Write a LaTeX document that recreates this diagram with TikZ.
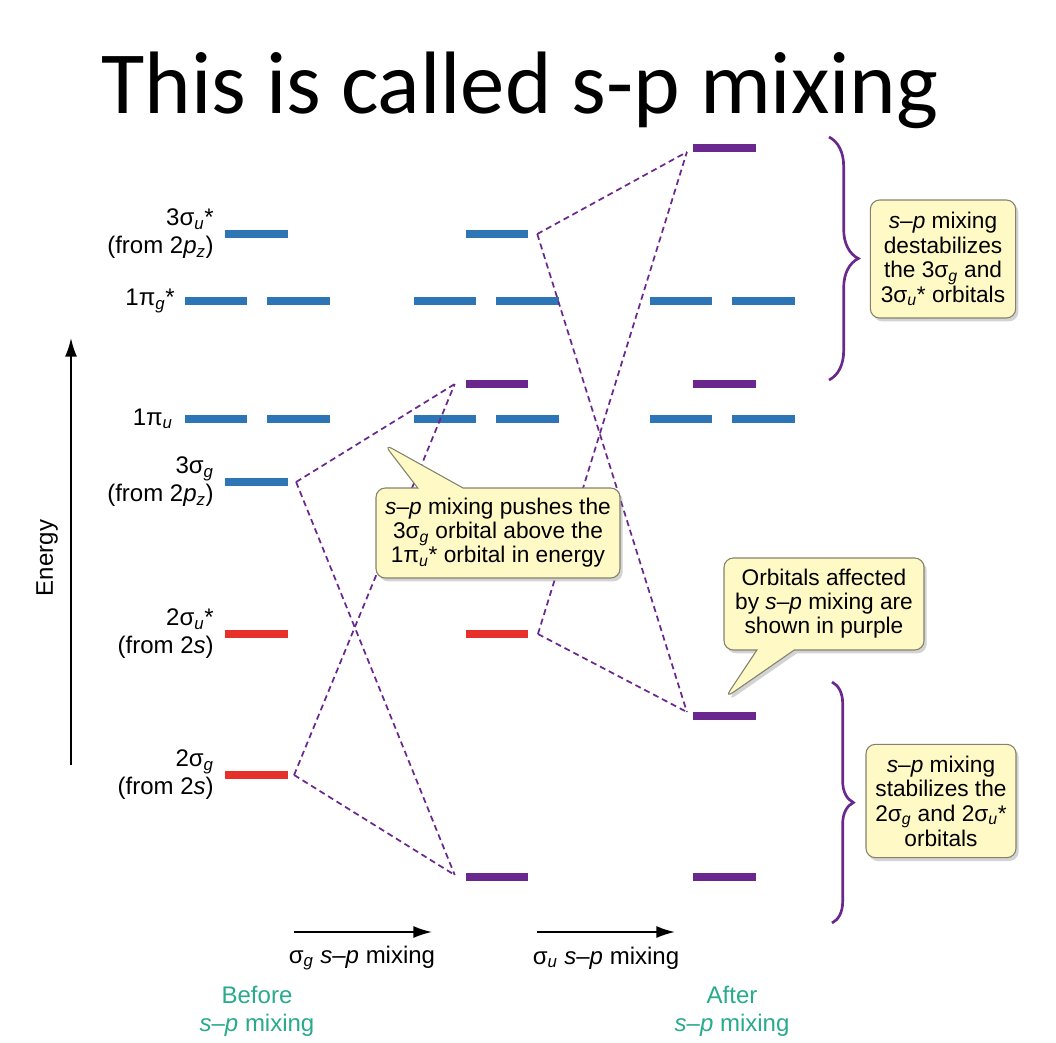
\documentclass[tikz,border=0pt]{standalone}
\usepackage{fontspec}
\setmainfont{Liberation Sans}
\newfontfamily\titlefont{Carlito}
\usetikzlibrary{arrows.meta, shapes.callouts, shadows, decorations.pathreplacing}
\definecolor{orbblue}{RGB}{46,117,182}
\definecolor{orbred}{RGB}{232,48,42}
\definecolor{orbpurple}{RGB}{106,40,142}
\definecolor{capgreen}{RGB}{40,170,140}
\definecolor{notefill}{RGB}{255,249,198}
\definecolor{noteedge}{RGB}{130,130,110}
\newcommand{\osub}[1]{\textsubscript{\textit{#1}}}
\newcommand{\spmix}{\textit{s}--\textit{p}}

\begin{document}
\begin{tikzpicture}[
    x=0.75pt, y=-0.75pt,
    lvl/.style={rectangle, inner sep=0pt, minimum width=47pt, minimum height=6pt},
    blvl/.style={lvl, fill=orbblue},
    rlvl/.style={lvl, fill=orbred},
    plvl/.style={lvl, fill=orbpurple},
    lbl/.style={anchor=east, inner sep=0pt, align=right, font=\fontsize{18}{21}\selectfont},
    mix/.style={draw=orbpurple, line width=1.3pt, dash pattern=on 4.5pt off 3pt},
    note/.style={rectangle callout, rounded corners=7pt, draw=noteedge, line width=0.8pt, fill=notefill, align=center, inner sep=2pt, callout pointer width=34pt, font=\fontsize{17}{18}\selectfont, drop shadow={opacity=0.35, shadow xshift=2pt, shadow yshift=-2.5pt}},
    box/.style={rectangle, rounded corners=7pt, draw=noteedge, line width=0.8pt, fill=notefill, align=center, inner sep=2pt, font=\fontsize{17}{18.5}\selectfont, drop shadow={opacity=0.35, shadow xshift=2pt, shadow yshift=-2.5pt}},
    brc/.style={draw=orbpurple, line width=2pt, decorate},
    arrow/.style={-{Latex[length=14pt, width=9pt]}, line width=1.3pt},
    stagelbl/.style={text=capgreen, align=center, font=\fontsize{18}{21}\selectfont}
]
\useasboundingbox (0,0) rectangle (1056,1042);

\node[font=\titlefont\fontsize{66.5}{70}\selectfont, anchor=base] (title) at (520,113) {This is called s-p mixing};

\node[blvl] (a3su) at (256.5,234) {};
\node[blvl] (a1pgL) at (216,301) {};
\node[blvl] (a1pgR) at (298.5,301) {};
\node[blvl] (a1puL) at (216,419) {};
\node[blvl] (a1puR) at (298.5,419) {};
\node[blvl] (a3sg) at (256.5,482) {};
\node[rlvl] (a2su) at (256.5,634) {};
\node[rlvl] (a2sg) at (256.5,775) {};

\node[blvl] (b3su) at (497,234) {};
\node[blvl] (b1pgL) at (445,301) {};
\node[blvl] (b1pgR) at (527.5,301) {};
\node[plvl] (b3sg) at (497,384) {};
\node[blvl] (b1puL) at (445,419) {};
\node[blvl] (b1puR) at (527.5,419) {};
\node[rlvl] (b2su) at (497,634) {};
\node[plvl] (b2sg) at (497,877) {};

\node[plvl] (c3su) at (724.5,148) {};
\node[blvl] (c1pgL) at (681,301) {};
\node[blvl] (c1pgR) at (763.5,301) {};
\node[plvl] (c3sg) at (724.5,384) {};
\node[blvl] (c1puL) at (681,419) {};
\node[blvl] (c1puR) at (763.5,419) {};
\node[plvl] (c2su) at (724.5,716) {};
\node[plvl] (c2sg) at (724.5,877) {};

\node[lbl] (l3su) at (214,234) {3σ\osub{u}*\\(from 2\textit{p}\osub{z})};
\node[lbl] (l1pg) at (175,301) {1π\osub{g}*};
\node[lbl] (l1pu) at (173,419) {1π\osub{u}};
\node[lbl] (l3sg) at (214,482) {3σ\osub{g}\\(from 2\textit{p}\osub{z})};
\node[lbl] (l2su) at (214,634) {2σ\osub{u}*\\(from 2\textit{s})};
\node[lbl] (l2sg) at (214,775) {2σ\osub{g}\\(from 2\textit{s})};

\draw[mix] ([xshift=6pt]a3sg.east) -- ([xshift=-8pt]b3sg.west);
\draw[mix] ([xshift=6pt]a3sg.east) -- ([xshift=-8pt,yshift=1.5pt]b2sg.west);
\draw[mix] ([xshift=4.5pt]a2sg.east) -- ([xshift=-8pt]b3sg.west);
\draw[mix] ([xshift=4.5pt]a2sg.east) -- ([xshift=-8pt,yshift=1.5pt]b2sg.west);
\draw[mix] ([xshift=6.5pt]b3su.east) -- ([xshift=-4.5pt,yshift=-3pt]c3su.west);
\draw[mix] ([xshift=6.5pt]b3su.east) -- ([xshift=-4.5pt,yshift=3pt]c2su.west);
\draw[mix] ([xshift=7pt]b2su.east) -- ([xshift=-4.5pt,yshift=-3pt]c3su.west);
\draw[mix] ([xshift=7pt]b2su.east) -- ([xshift=-4.5pt,yshift=3pt]c2su.west);

\coordinate (e0) at (71,765);
\coordinate (e1) at (71,338);
\draw[arrow] (e0) -- (e1);
\node[rotate=90, font=\fontsize{18}{21}\selectfont] (energy) at (47,558) {Energy};

\coordinate (g0) at (294,932);
\coordinate (g1) at (432,932);
\coordinate (u0) at (537,932);
\coordinate (u1) at (675,932);
\draw[arrow] (g0) -- (g1);
\draw[arrow] (u0) -- (u1);
\node[font=\fontsize{18}{21}\selectfont] (gmix) at (362,958) {σ\osub{g} \spmix{} mixing};
\node[font=\fontsize{18}{21}\selectfont] (umix) at (606,958) {σ\osub{u} \spmix{} mixing};
\node[stagelbl] (before) at (257,1011) {Before\\\spmix{} mixing};
\node[stagelbl] (after) at (732,1011) {After\\\spmix{} mixing};

\coordinate (bt1) at (829,137);
\coordinate (bb1) at (829,380);
\coordinate (bt2) at (832,682);
\coordinate (bb2) at (832,923);
\draw[brc, decoration={brace, amplitude=22pt}] (bt1) -- (bb1);
\draw[brc, decoration={brace, amplitude=16pt}] (bt2) -- (bb2);

\node[note, callout absolute pointer={(384,444)}, minimum width=183pt, minimum height=67.5pt] (pushnote) at (498,533) {\spmix{} mixing pushes the\\3σ\osub{g} orbital above the\\1π\osub{u}* orbital in energy};
\node[note, callout absolute pointer={(725,698)}, callout pointer width=28pt, minimum width=150pt, minimum height=69pt] (purplenote) at (824,604) {Orbitals affected\\by \spmix{} mixing are\\shown in purple};
\node[box, minimum width=109pt, minimum height=88.5pt] (destab) at (943,259) {\spmix{} mixing\\destabilizes\\the 3σ\osub{g} and\\3σ\osub{u}* orbitals};
\node[box, minimum width=112.5pt, minimum height=85pt] (stab) at (941,801) {\spmix{} mixing\\stabilizes the\\2σ\osub{g} and 2σ\osub{u}*\\orbitals};

\end{tikzpicture}
\end{document}
